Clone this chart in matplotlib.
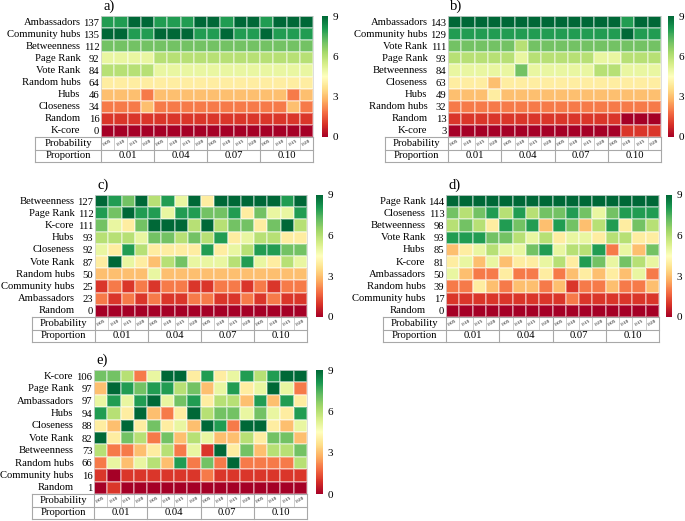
import numpy as np
import matplotlib
matplotlib.use("Agg")
import matplotlib.pyplot as plt
import matplotlib.transforms as mtransforms
from matplotlib.cm import ScalarMappable
from matplotlib.colors import Normalize

plt.rcParams['font.family'] = ['Liberation Serif', 'DejaVu Serif']

probabilities = ['0.05', '0.10', '0.15', '0.20']
proportions = ['0.01', '0.04', '0.07', '0.10']

# ---- panel a ----
names_a = ['Ambassadors', 'Community hubs', 'Betweenness', 'Page Rank', 'Vote Rank',
           'Random hubs', 'Hubs', 'Closeness', 'Random', 'K-core']
ranks_a = [
    [8, 8, 9, 9, 8, 8, 8, 9, 9, 8, 9, 9, 8, 9, 9, 9],
    [9, 9, 8, 8, 9, 9, 9, 8, 8, 9, 8, 8, 9, 8, 8, 8],
    [7, 7, 7, 7, 7, 7, 7, 7, 7, 7, 7, 7, 7, 7, 7, 7],
    [5, 5, 5, 5, 6, 6, 6, 6, 6, 6, 6, 6, 6, 6, 6, 6],
    [6, 6, 6, 6, 5, 5, 5, 5, 5, 5, 5, 5, 5, 5, 5, 5],
    [4, 4, 4, 4, 4, 4, 4, 4, 4, 4, 4, 4, 4, 4, 4, 4],
    [3, 3, 3, 2, 3, 3, 3, 3, 3, 3, 3, 3, 3, 3, 2, 3],
    [2, 2, 2, 3, 2, 2, 2, 2, 2, 2, 2, 2, 2, 2, 3, 2],
    [1, 1, 1, 1, 1, 1, 1, 1, 1, 1, 1, 1, 1, 1, 1, 1],
    [0, 0, 0, 0, 0, 0, 0, 0, 0, 0, 0, 0, 0, 0, 0, 0],
]
scores_a = [137, 135, 112, 92, 84, 64, 46, 34, 16, 0]

# ---- panel b ----
names_b = ['Ambassadors', 'Community hubs', 'Vote Rank', 'Page Rank', 'Betweenness',
           'Closeness', 'Hubs', 'Random hubs', 'Random', 'K-core']
ranks_b = [
    [9, 9, 9, 9, 9, 9, 9, 9, 9, 9, 9, 9, 9, 8, 9, 9],
    [8, 8, 8, 8, 8, 8, 8, 8, 8, 8, 8, 8, 8, 9, 8, 8],
    [7, 7, 7, 7, 7, 6, 7, 7, 7, 7, 7, 7, 7, 7, 7, 7],
    [6, 6, 6, 6, 6, 5, 6, 6, 6, 6, 6, 5, 5, 6, 6, 6],
    [5, 5, 5, 5, 5, 7, 5, 5, 5, 5, 5, 6, 6, 5, 5, 5],
    [4, 4, 4, 3, 4, 4, 4, 4, 4, 4, 4, 4, 4, 4, 4, 4],
    [3, 3, 3, 4, 3, 3, 3, 3, 3, 3, 3, 3, 3, 3, 3, 3],
    [2, 2, 2, 2, 2, 2, 2, 2, 2, 2, 2, 2, 2, 2, 2, 2],
    [1, 1, 1, 1, 1, 1, 1, 1, 1, 1, 1, 1, 1, 0, 0, 0],
    [0, 0, 0, 0, 0, 0, 0, 0, 0, 0, 0, 0, 0, 1, 1, 1],
]
scores_b = [143, 129, 111, 93, 84, 63, 49, 32, 13, 3]

# ---- panel c ----
names_c = ['Betweenness', 'Page Rank', 'K-core', 'Hubs', 'Closeness', 'Vote Rank',
           'Random hubs', 'Community hubs', 'Ambassadors', 'Random']
ranks_c = [
    [9, 8, 7, 9, 6, 8, 5, 9, 4, 9, 9, 9, 9, 9, 8, 9],
    [8, 7, 9, 8, 8, 5, 8, 8, 7, 7, 8, 4, 7, 5, 5, 8],
    [7, 5, 4, 7, 9, 9, 9, 6, 9, 6, 7, 7, 4, 7, 9, 6],
    [6, 6, 6, 5, 7, 7, 6, 7, 6, 8, 4, 5, 6, 6, 4, 4],
    [5, 4, 8, 6, 4, 4, 4, 4, 8, 4, 5, 6, 8, 8, 7, 7],
    [4, 9, 5, 4, 3, 6, 7, 5, 5, 5, 6, 8, 5, 4, 6, 5],
    [3, 3, 3, 3, 5, 3, 3, 3, 3, 3, 3, 3, 3, 3, 3, 3],
    [1, 2, 1, 2, 1, 2, 2, 1, 1, 2, 2, 1, 2, 1, 2, 2],
    [2, 1, 2, 1, 2, 1, 1, 2, 2, 1, 1, 2, 1, 2, 1, 1],
    [0, 0, 0, 0, 0, 0, 0, 0, 0, 0, 0, 0, 0, 0, 0, 0],
]
scores_c = [127, 112, 111, 93, 92, 87, 50, 25, 23, 0]

# ---- panel d ----
names_d = ['Page Rank', 'Closeness', 'Betweenness', 'Vote Rank', 'Hubs', 'K-core',
           'Ambassadors', 'Random hubs', 'Community hubs', 'Random']
ranks_d = [
    [9, 9, 9, 9, 9, 9, 9, 9, 9, 9, 9, 9, 9, 9, 9, 9],
    [7, 6, 7, 8, 6, 8, 6, 7, 7, 8, 7, 5, 7, 8, 8, 8],
    [6, 7, 6, 4, 8, 7, 8, 3, 8, 7, 3, 6, 8, 4, 7, 6],
    [8, 8, 8, 7, 7, 6, 5, 6, 4, 5, 5, 4, 6, 6, 4, 4],
    [3, 4, 5, 6, 5, 5, 7, 8, 5, 6, 6, 8, 2, 5, 3, 7],
    [4, 5, 3, 5, 3, 4, 4, 5, 6, 4, 8, 7, 5, 7, 6, 5],
    [5, 3, 2, 2, 4, 2, 2, 4, 2, 3, 4, 3, 4, 3, 5, 2],
    [2, 2, 4, 3, 2, 3, 3, 2, 3, 1, 2, 2, 3, 2, 2, 3],
    [1, 1, 1, 1, 1, 1, 1, 1, 1, 2, 1, 1, 1, 1, 1, 1],
    [0, 0, 0, 0, 0, 0, 0, 0, 0, 0, 0, 0, 0, 0, 0, 0],
]
scores_d = [144, 113, 98, 93, 85, 81, 50, 39, 17, 0]

# ---- panel e ----
names_e = ['K-core', 'Page Rank', 'Ambassadors', 'Hubs', 'Closeness', 'Vote Rank',
           'Betweenness', 'Random hubs', 'Community hubs', 'Random']
ranks_e = [
    [7, 7, 6, 2, 5, 9, 9, 4, 8, 4, 5, 8, 6, 8, 9, 9],
    [3, 9, 8, 7, 8, 8, 6, 7, 3, 5, 8, 4, 5, 9, 5, 2],
    [5, 8, 5, 8, 9, 5, 7, 8, 4, 6, 6, 3, 8, 3, 8, 4],
    [8, 6, 4, 9, 3, 2, 4, 9, 6, 7, 7, 5, 7, 5, 4, 8],
    [4, 3, 9, 4, 7, 4, 5, 3, 9, 8, 2, 9, 9, 4, 3, 5],
    [9, 4, 7, 6, 2, 7, 3, 6, 5, 3, 3, 6, 4, 7, 7, 3],
    [6, 2, 2, 3, 4, 6, 2, 5, 1, 9, 4, 7, 3, 6, 6, 7],
    [2, 5, 3, 5, 6, 3, 8, 2, 7, 2, 9, 2, 2, 2, 2, 6],
    [1, 0, 1, 1, 1, 1, 1, 1, 2, 1, 1, 1, 1, 1, 1, 1],
    [0, 1, 0, 0, 0, 0, 0, 0, 0, 0, 0, 0, 0, 0, 0, 0],
]
scores_e = [106, 97, 97, 94, 88, 82, 73, 66, 16, 1]

W, H = 685, 521
fig = plt.figure(figsize=(W / 100, H / 100), dpi=100)
cmap = plt.get_cmap('RdYlGn')
norm = Normalize(vmin=0, vmax=9)
FS = 7.7
LINE = '#a8a8a8'


def rect(x0, y0, x1, y1):
    return [x0 / W, 1 - y1 / H, (x1 - x0) / W, (y1 - y0) / H]


def panel(letter, names, ranks, scores, hm, tleft, tbottom, cb):
    x0, y0, x1, y1 = hm
    data = np.array(ranks)
    nr, nc = data.shape
    ax = fig.add_axes(rect(x0, y0, x1, y1))
    ax.pcolormesh(np.arange(nc + 1), np.arange(nr + 1), data, cmap=cmap, norm=norm,
                  edgecolors=(1, 1, 1, 0.35), linewidth=0.3)
    ax.set_xlim(0, nc)
    ax.set_ylim(nr, 0)
    ax.set_xticks([])
    ax.set_yticks(np.arange(nr) + 0.5)
    ax.set_yticklabels([str(s) for s in scores], fontsize=FS)
    ax.tick_params(axis='y', length=0, pad=1.2)
    for sp in ax.spines.values():
        sp.set_color('#d0d0d0')
        sp.set_linewidth(0.5)
    wpx = x1 - x0
    hpx = y1 - y0
    trans = mtransforms.blended_transform_factory(ax.transAxes, ax.transData)
    for i, n in enumerate(names):
        ax.text(-20.5 / wpx, i + 0.5, n, transform=trans, ha='right', va='center',
                fontsize=FS)
    ax.text(0.01, 1 + 3.0 / hpx, letter, transform=ax.transAxes, ha='left', va='bottom',
            fontsize=10.5)

    # table under heatmap
    tax = fig.add_axes(rect(tleft, y1, x1, tbottom))
    colw = wpx / nc
    xl = -(x0 - tleft) / colw
    tax.set_xlim(xl, nc)
    tax.set_ylim(2, 0)
    tax.axis('off')
    kw = dict(color=LINE, clip_on=False)
    for yy in (0, 1, 2):
        tax.plot([xl, nc], [yy, yy], lw=0.8, **kw)
    for xx in (xl, 0, 4, 8, 12, nc):
        tax.plot([xx, xx], [0, 2], lw=0.8, **kw)
    for j in range(1, nc):
        if j % 4:
            tax.plot([j, j], [0, 1], lw=0.4, **kw)
    tax.text(xl / 2, 0.5, 'Probability', ha='center', va='center', fontsize=FS)
    tax.text(xl / 2, 1.5, 'Proportion', ha='center', va='center', fontsize=FS)
    for j in range(nc):
        tax.text(j + 0.5, 0.5, probabilities[j % 4], ha='center', va='center',
                 fontsize=3.8, rotation=30)
    for k, p in enumerate(proportions):
        tax.text(4 * k + 2, 1.5, p, ha='center', va='center', fontsize=FS)

    # colorbar
    cax = fig.add_axes(rect(cb[0], y0, cb[1], y1))
    cbar = fig.colorbar(ScalarMappable(norm=norm, cmap=cmap), cax=cax, ticks=[0, 3, 6, 9])
    cbar.outline.set_visible(False)
    cax.tick_params(length=0, labelsize=8, pad=3)


panel('a)', names_a, ranks_a, scores_a, (101, 16, 313, 137), 35, 162, (322, 328))
panel('b)', names_b, ranks_b, scores_b, (448, 16, 661, 137), 385, 162, (668, 674))
panel('c)', names_c, ranks_c, scores_c, (95, 195, 307, 317), 32, 342, (316, 323))
panel('d)', names_d, ranks_d, scores_d, (446, 195, 659, 317), 383, 342, (666, 672))
panel('e)', names_e, ranks_e, scores_e, (94, 370, 307, 494), 32, 519, (316, 323))

fig.savefig('out.png', dpi=100)
